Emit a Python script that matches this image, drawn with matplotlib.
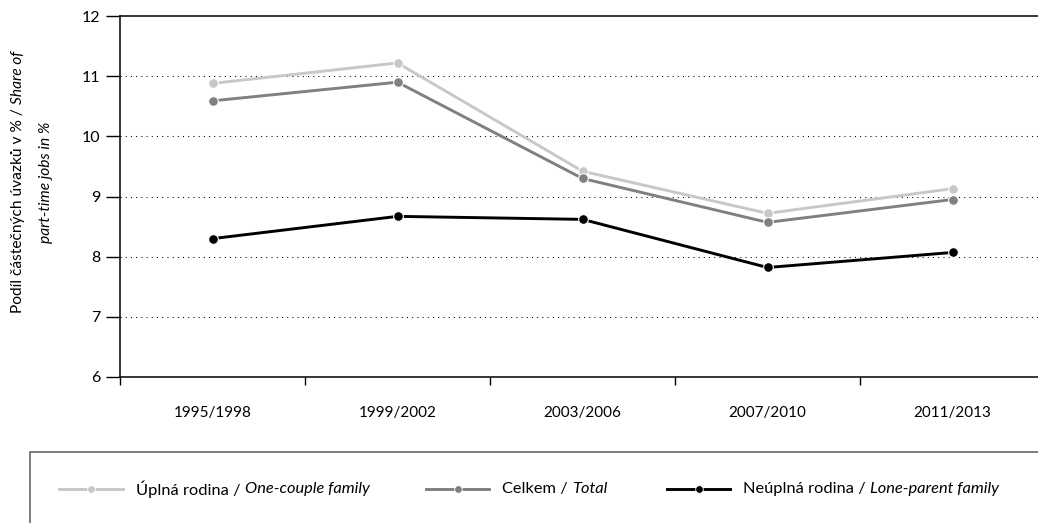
import numpy as np
import matplotlib
matplotlib.use("Agg")
import matplotlib.pyplot as plt
from matplotlib.lines import Line2D
from matplotlib.patches import Rectangle

plt.rcParams['font.family'] = ['Lato', 'DejaVu Sans']

periods = ['1995/1998', '1999/2002', '2003/2006', '2007/2010', '2011/2013']
one_couple = [10.88, 11.22, 9.42, 8.72, 9.13]
total = [10.59, 10.90, 9.30, 8.57, 8.95]
lone_parent = [8.30, 8.67, 8.62, 7.82, 8.07]

series = [
    (one_couple, '#c8c8c8', 'Úplná rodina / ', 'One-couple family'),
    (total, '#808080', 'Celkem / ', 'Total'),
    (lone_parent, '#000000', 'Neúplná rodina / ', 'Lone-parent family'),
]

W, H = 1038, 523
fig = plt.figure(figsize=(W / 100, H / 100), dpi=100)
ax = fig.add_axes([120 / W, (H - 377) / H, 925 / W, 361 / H])

x = np.arange(len(periods))
for vals, col, _, _ in series:
    ax.plot(x, vals, color=col, lw=2.1, marker='o', ms=7, mfc=col,
            mec='white', mew=0.8, zorder=3)

ax.set_xlim(-0.5, len(periods) - 0.5)
ax.set_ylim(6, 12)
ax.set_yticks(range(6, 13))
ax.tick_params(axis='y', direction='out', length=10, width=1, pad=4, labelsize=11.5)
for yv in range(7, 12):
    ax.axhline(yv, color='black', lw=0.75, dashes=(1, 4), zorder=1)

ax.set_xticks(np.arange(-0.5, len(periods)), labels=[])
ax.set_xticks(x, labels=periods, minor=True)
ax.tick_params(axis='x', which='major', direction='out', length=6, width=1)
ax.tick_params(axis='x', which='minor', length=0, pad=21, labelsize=11)
for s in ax.spines.values():
    s.set_linewidth(1.1)

fig.canvas.draw()
r = fig.canvas.get_renderer()

def px(v, axis):
    return v / (W if axis == 'x' else H)

# y label, two rotated lines mixing upright and italic parts
def vlabel(xc, parts, fs=11.2):
    texts = []
    for s, style in parts:
        t = fig.text(px(xc, 'x'), 0, s, rotation=90, style=style, fontsize=fs,
                     ha='center', va='bottom')
        texts.append(t)
    fig.canvas.draw()
    hs = [t.get_window_extent(r).height for t in texts]
    yc = (H - 182)
    y0 = yc - sum(hs) / 2
    for t, h in zip(texts, hs):
        t.set_y(px(y0, 'y'))
        y0 += h

vlabel(18, [('Podíl částečných úvazků v % / ', 'normal'), ('Share of', 'italic')])
vlabel(46, [('part-time jobs in %', 'italic')])

# legend box
fig.patches.append(Rectangle((px(30, 'x'), -0.1), 1.2, px(H - 452.5, 'y') + 0.1,
                             transform=fig.transFigure, fill=False,
                             ec='#5a5a5a', lw=1.1))
ly = px(H - 489, 'y')
leg_x = [(59, 123, 136), (426, 489, 502), (667, 730, 743)]
for (vals, col, lab, ital), (x0, x1, tx) in zip(series, leg_x):
    fig.lines.append(Line2D([px(x0, 'x'), px(x1, 'x')], [ly, ly],
                            transform=fig.transFigure, color=col, lw=2.1))
    fig.lines.append(Line2D([px((x0 + x1) / 2, 'x')], [ly], transform=fig.transFigure,
                            marker='o', ms=5.5, color=col, mec='white', mew=0.6))
    t1 = fig.text(px(tx, 'x'), ly, lab, fontsize=11.8, va='center')
    fig.canvas.draw()
    w = t1.get_window_extent(r).width
    fig.text(px(tx + w, 'x'), ly, ital, fontsize=11.8, style='italic', va='center')

fig.savefig('out.png', dpi=100)
